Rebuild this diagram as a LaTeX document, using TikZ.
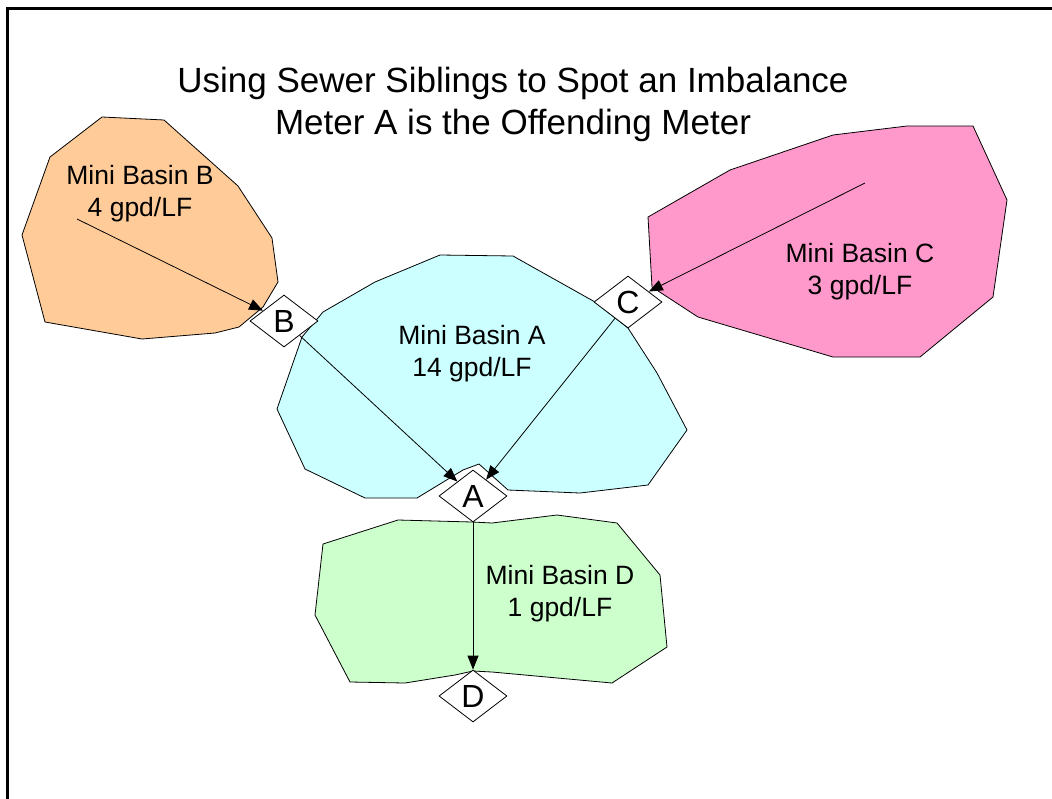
\documentclass[tikz,border=0pt]{standalone}
\usepackage{fontspec}
\setmainfont{Liberation Sans}
\usetikzlibrary{shapes.geometric,arrows.meta}
\definecolor{basinB}{HTML}{FFCC99}
\definecolor{basinC}{HTML}{FF99CC}
\definecolor{basinA}{HTML}{CCFFFF}
\definecolor{basinD}{HTML}{CCFFCC}
\begin{document}
\begin{tikzpicture}[x=1pt,y=-1pt,
  basin/.style={draw=black,line width=0.8pt,line join=miter},
  meter/.style={diamond,draw=black,fill=white,line width=0.8pt,minimum width=68pt,minimum height=52pt,inner sep=0pt,font=\fontsize{32}{32}\selectfont},
  flow/.style={draw=black,line width=0.8pt,-{Triangle[length=14pt,width=11pt]}},
  lbl/.style={align=center,anchor=base,inner sep=0pt,font=\fontsize{26.5}{32}\selectfont},
  ttl/.style={align=center,anchor=base,inner sep=0pt,font=\fontsize{35}{42}\selectfont}]
\useasboundingbox (0,0) rectangle (1052,798);
\fill[white] (0,0) rectangle (1052,798);
% frame
\draw[line width=3pt] (7,800) -- (7,8) -- (1054,8);
% basins
\draw[basin,fill=basinB] (102,117) -- (164,120) -- (238,186) -- (272,238) -- (278,282) -- (263,307) -- (239,327) -- (215,333) -- (142,339) -- (45,322) -- (22,235) -- (50,157) -- cycle;
\draw[basin,fill=basinC] (973,126) -- (907,126) -- (833,135) -- (730,170) -- (648,217) -- (652,287) -- (698,317) -- (833,357) -- (920,357) -- (993,297) -- (1007,200) -- cycle;
\draw[basin,fill=basinA] (440,255) -- (513,256) -- (595,302) -- (628,328) -- (657,373) -- (687,430) -- (648,485) -- (580,493) -- (508,490) -- (479,464) -- (463,470) -- (417,498) -- (365,498) -- (305,469) -- (277,409) -- (302,337) -- (323,312) -- (375,282) -- cycle;
\draw[basin,fill=basinD] (398,520) -- (472,522) -- (492,523) -- (557,515) -- (617,523) -- (660,575) -- (667,647) -- (612,683) -- (492,672) -- (473,671) -- (455,675) -- (405,683) -- (350,682) -- (315,615) -- (323,544) -- cycle;
% labels
\node[ttl] (title) at (513,134) {Using Sewer Siblings to Spot an Imbalance\\Meter A is the Offending Meter};
\node[lbl] (lblB) at (140,216) {Mini Basin B\\4 gpd/LF};
\node[lbl] (lblA) at (472,376) {Mini Basin A\\14 gpd/LF};
\node[lbl] (lblC) at (860,294) {Mini Basin C\\3 gpd/LF};
\node[lbl] (lblD) at (560,616) {Mini Basin D\\1 gpd/LF};
% meters
\node[meter] (A) at (473,496) {A};
\node[meter] (B) at (284,321) {B};
\node[meter] (C) at (628,302) {C};
\node[meter] (D) at (473,696) {D};
\coordinate (bsrc) at (77,219);
\coordinate (csrc) at (865,183);
% flows
\draw[flow] (bsrc) -- (B);
\draw[flow] (csrc) -- (C);
\draw[flow] (B) -- (A);
\draw[flow] (C) -- (A);
\draw[flow] (A) -- (D);
\end{tikzpicture}
\end{document}
